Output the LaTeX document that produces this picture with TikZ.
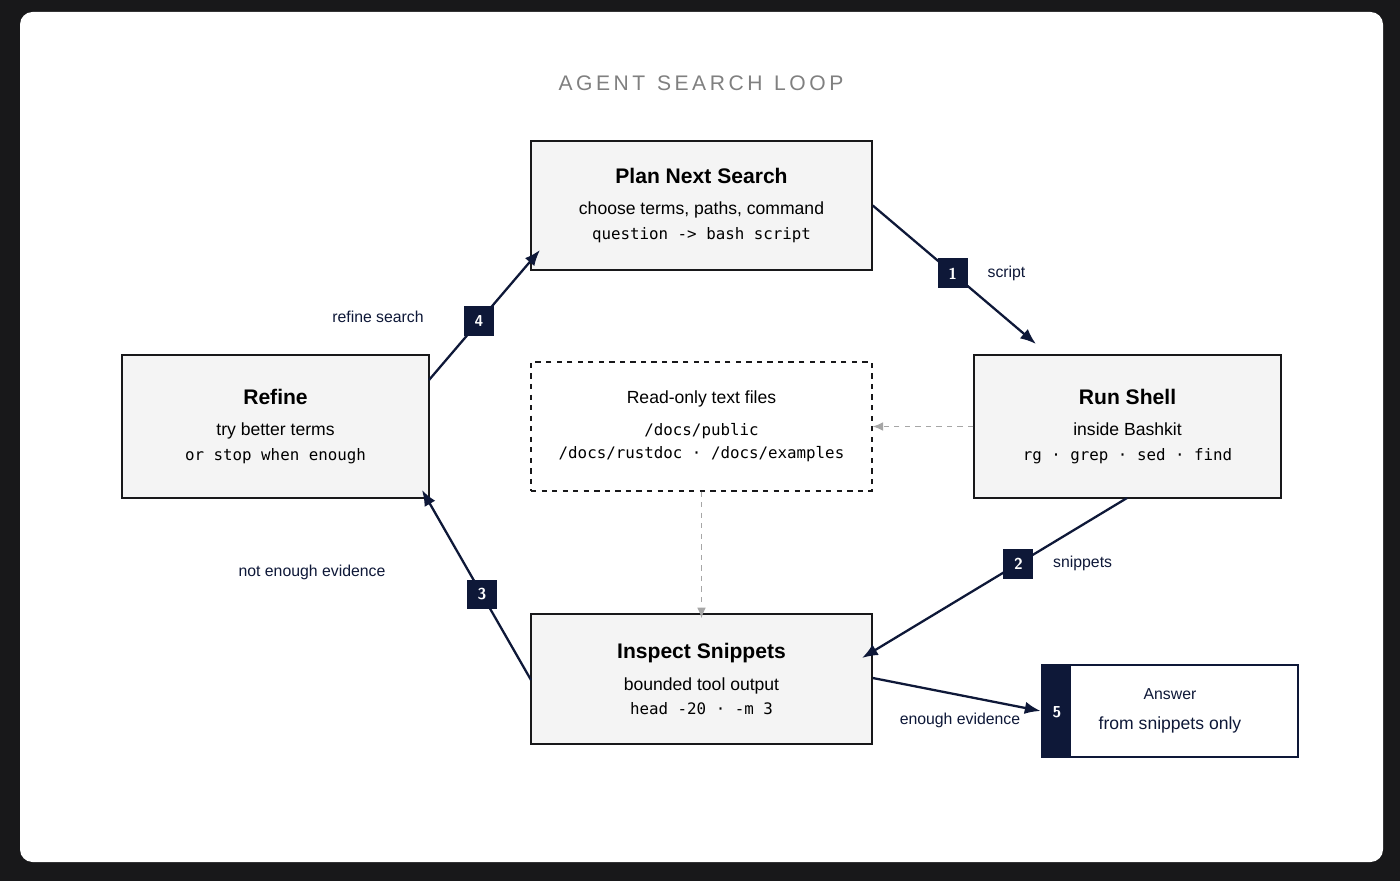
\documentclass[tikz,border=0pt]{standalone}
\usepackage{fontspec}
\setmainfont{Liberation Sans}
\setmonofont{DejaVu Sans Mono}
\usetikzlibrary{positioning, arrows.meta}
\definecolor{navy}{HTML}{0E1838}
\definecolor{boxfill}{HTML}{F4F4F4}
\definecolor{frame}{HTML}{18181A}
\tikzset{
	stage/.style = {draw = frame, fill = boxfill, line width = 0.9pt, minimum width = 6.82cm, minimum height = 2.58cm, align = center},
	flow/.style = {draw = navy, line width = 1.3pt, -{Latex[length=9pt,width=7pt]}},
	hint/.style = {draw = gray!70, line width = 0.8pt, dashed, -{Latex[length=6pt,width=5pt]}},
	badge/.style = {fill = navy, text = white, font = \sffamily\bfseries\small, minimum size = 0.6cm, inner sep = 0pt},
	tag/.style = {text = navy, font = \small}
}
\begin{document}
\begin{tikzpicture}[x = 0.02cm, y = -0.02cm]
	\useasboundingbox (0, 0) rectangle (1400, 881);
	\fill[frame] (0, 0) rectangle (1400, 881);
	\fill[white, rounded corners = 0.25cm] (20, 12) rectangle (1383, 862);
	
	\node[gray, font = \large] at (701, 83) {A\,G\,E\,N\,T\; S\,E\,A\,R\,C\,H\; L\,O\,O\,P};
	
	\node[stage] (plan) at (701.5, 205.5) {{\large\bfseries Plan Next Search}\\[6pt] choose terms, paths, command\\[2pt] {\ttfamily\small question -> bash script}};
	\node[stage, minimum width = 6.14cm, minimum height = 2.86cm] (shell) at (1127.5, 426.5) {{\large\bfseries Run Shell}\\[6pt] inside Bashkit\\[2pt] {\ttfamily\small rg · grep · sed · find}};
	\node[stage, minimum width = 6.14cm, minimum height = 2.86cm] (refine) at (275.5, 426.5) {{\large\bfseries Refine}\\[6pt] try better terms\\[2pt] {\ttfamily\small or stop when enough}};
	\node[stage, minimum height = 2.6cm] (inspect) at (701.5, 679) {{\large\bfseries Inspect Snippets}\\[6pt] bounded tool output\\[2pt] {\ttfamily\small head -20 · -m 3}};
	\node[stage, fill = white, dashed, line width = 0.7pt] (files) at (701.5, 426.5) {Read-only text files\\[6pt] {\ttfamily\small /docs/public}\\[1pt] {\ttfamily\small /docs/rustdoc · /docs/examples}};
	
	% answer box with band
	\node[draw = navy, line width = 1.6pt, fill = white, minimum width = 5.12cm, minimum height = 1.84cm, inner sep = 0pt] (answer) at (1170, 711) {};
	\fill[navy] (answer.north west) rectangle ([xshift = 0.6cm] answer.south west);
	\node[text = navy, align = center, font = \small] at (1170, 711) {Answer\\[6pt] \normalsize from snippets only};
	\node[text = white, font = \sffamily\bfseries\small] at (1057, 712) {5};
	
	\coordinate (shelltop) at (1036, 344);
	\coordinate (inspectin) at (862, 658);
	\coordinate (refinein) at (422, 490);
	\coordinate (planin) at (540, 250);
	\coordinate (refineout) at (429, 380);
	\coordinate (inspectout) at (531, 680);
	\coordinate (shellout) at (1127, 498);
	
	\draw[flow] (plan.east) -- node[badge, pos = 0.49] (b1) {1} (shelltop);
	\node[tag, right = 0.25cm of b1] {script};
	\draw[flow] (shellout) -- node[badge, pos = 0.41] (b2) {2} (inspectin);
	\node[tag, right = 0.25cm of b2] {snippets};
	\draw[flow] (inspectout) -- node[badge, pos = 0.45] (b3) {3} (refinein);
	\node[tag] at (312, 572) {not enough evidence};
	\draw[flow] (refineout) -- node[badge, pos = 0.45] (b4) {4} (planin);
	\node[tag] at (378, 317) {refine search};
	\draw[flow] ([yshift = 0.02cm] inspect.east) -- (answer.west);
	\node[tag] at (960, 720) {enough evidence};
	
	\draw[hint] (shell.west) -- (files.east);
	\draw[hint] (files.south) -- ([yshift = -0.1cm] inspect.north);
\end{tikzpicture}
\end{document}
